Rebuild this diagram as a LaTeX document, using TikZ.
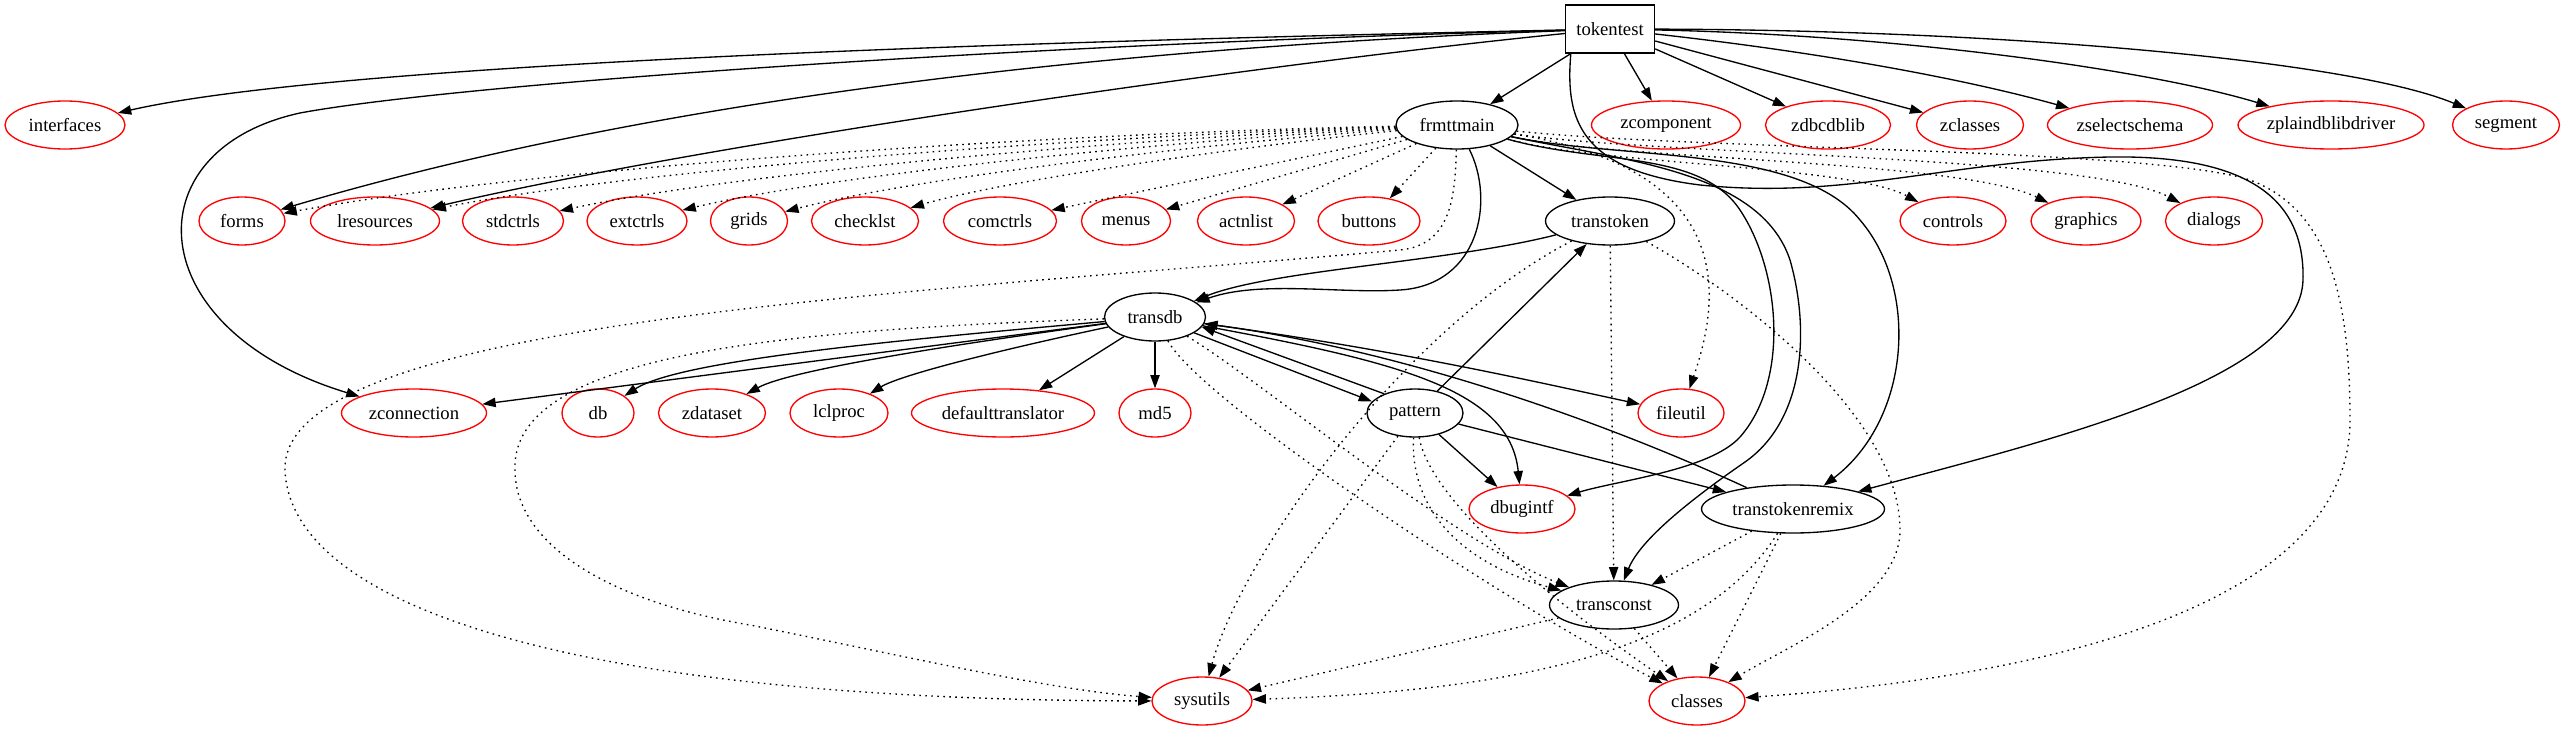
\documentclass[tikz,border=0pt]{standalone}
\usepackage{fontspec}
\setmainfont{Liberation Serif}
\usetikzlibrary{shapes.geometric,arrows.meta,calc}
\tikzset{
  lbl/.style={font={\fontsize{14}{16}\selectfont}, inner sep=0pt, minimum height=36pt},
  ext/.style={lbl, ellipse, draw=red, line width=1pt},
  unit/.style={lbl, ellipse, draw=black, line width=1pt},
  root/.style={lbl, rectangle, draw=black, line width=1pt},
  uses/.style={line width=1pt, -{Triangle[length=10pt,width=7pt]}},
  impl/.style={uses, dash pattern=on 1.2pt off 3.3pt},
}
\begin{document}
\begin{tikzpicture}[x=0.75pt,y=-0.75pt]
\useasboundingbox (0,0) rectangle (2565,731);
% rank 0
\node[root, minimum width=66.75pt] (tokentest) at (1610,29) {tokentest};
% rank 1
\node[ext, minimum width=90pt] (interfaces) at (65,125) {interfaces};
\node[unit, minimum width=91.5pt] (frmttmain) at (1457,125) {frmttmain};
\node[ext, minimum width=111.75pt] (zcomponent) at (1666,125) {zcomponent};
\node[ext, minimum width=93.75pt] (zdbcdblib) at (1828,125) {zdbcdblib};
\node[ext, minimum width=80.25pt] (zclasses) at (1970,125) {zclasses};
\node[ext, minimum width=123.75pt] (zselectschema) at (2130,125) {zselectschema};
\node[ext, minimum width=139.5pt] (zplaindblibdriver) at (2331,125) {zplaindblibdriver};
\node[ext, minimum width=80.25pt] (segment) at (2506,125) {segment};
% rank 2
\node[ext, minimum width=64.5pt] (forms) at (242,221) {forms};
\node[ext, minimum width=96.75pt] (lresources) at (375,221) {lresources};
\node[ext, minimum width=75.75pt] (stdctrls) at (513,221) {stdctrls};
\node[ext, minimum width=75pt] (extctrls) at (637,221) {extctrls};
\node[ext, minimum width=57.75pt] (grids) at (749,221) {grids};
\node[ext, minimum width=80.25pt] (checklst) at (865,221) {checklst};
\node[ext, minimum width=84.75pt] (comctrls) at (1000,221) {comctrls};
\node[ext, minimum width=66.75pt] (menus) at (1126,221) {menus};
\node[ext, minimum width=72.75pt] (actnlist) at (1246,221) {actnlist};
\node[ext, minimum width=76.5pt] (buttons) at (1369,221) {buttons};
\node[unit, minimum width=96.75pt] (transtoken) at (1610,221) {transtoken};
\node[ext, minimum width=79.5pt] (controls) at (1953,221) {controls};
\node[ext, minimum width=82.5pt] (graphics) at (2086,221) {graphics};
\node[ext, minimum width=72.75pt] (dialogs) at (2214,221) {dialogs};
% rank 3
\node[unit, minimum width=75.75pt] (transdb) at (1155,317) {transdb};
% rank 4
\node[ext, minimum width=108.75pt] (zconnection) at (414,413) {zconnection};
\node[ext, minimum width=54pt] (db) at (598,413) {db};
\node[ext, minimum width=80.25pt] (zdataset) at (712,413) {zdataset};
\node[ext, minimum width=73.5pt] (lclproc) at (839,413) {lclproc};
\node[ext, minimum width=137.25pt] (defaulttranslator) at (1003,413) {defaulttranslator};
\node[ext, minimum width=54pt] (md5) at (1155,413) {md5};
\node[unit, minimum width=72pt] (pattern) at (1415,413) {pattern};
\node[ext, minimum width=64.5pt] (fileutil) at (1681,413) {fileutil};
% rank 5
\node[ext, minimum width=79.5pt] (dbugintf) at (1522,509) {dbugintf};
\node[unit, minimum width=137.25pt] (transtokenremix) at (1793,509) {transtokenremix};
% rank 6
\node[unit, minimum width=96.75pt] (transconst) at (1614,605) {transconst};
% rank 7
\node[ext, minimum width=75pt] (sysutils) at (1202,701) {sysutils};
\node[ext, minimum width=72pt] (classes) at (1697,701) {classes};

% ---- tokentest
\draw[uses] (tokentest) .. controls (1100,40) and (350,60) .. (interfaces);
\draw[uses] (tokentest) .. controls (1000,45) and (450,85) .. (300,113) .. controls (130,150) and (140,330) .. (zconnection);
\draw[uses] (tokentest) .. controls (1100,48) and (650,100) .. (forms);
\draw[uses] (tokentest) .. controls (1250,65) and (700,145) .. (lresources);
\draw[uses] (tokentest) -- (frmttmain);
\draw[uses] (tokentest) -- (zcomponent);
\draw[uses] (tokentest) -- (zdbcdblib);
\draw[uses] (tokentest) -- (zclasses);
\draw[uses] (tokentest) .. controls (1800,50) and (1950,75) .. (zselectschema);
\draw[uses] (tokentest) .. controls (1900,35) and (2150,70) .. (zplaindblibdriver);
\draw[uses] (tokentest) .. controls (2000,30) and (2350,60) .. (segment);
\draw[uses] ($(tokentest.south west)+(6,0)$) .. controls (1565,120) and (1580,170) .. (1700,185)
   .. controls (1850,200) and (1950,160) .. (2110,157)
   .. controls (2250,155) and (2305,200) .. (2303,280)
   .. controls (2300,380) and (2050,440) .. (transtokenremix);

% ---- frmttmain
\draw[impl] (frmttmain) .. controls (1092,132) and (546,165) .. (forms);
\draw[impl] (frmttmain) .. controls (1132,134) and (646,167) .. (lresources);
\draw[impl] (frmttmain) .. controls (1174,136) and (749,170) .. (stdctrls);
\draw[impl] (frmttmain) .. controls (1211,138) and (842,172) .. (extctrls);
\draw[impl] (frmttmain) .. controls (1245,140) and (926,175) .. (grids);
\draw[impl] (frmttmain) .. controls (1279,142) and (1013,178) .. (checklst);
\draw[impl] (frmttmain) -- (comctrls);
\draw[impl] (frmttmain) -- (menus);
\draw[impl] (frmttmain) -- (actnlist);
\draw[impl] (frmttmain) -- (buttons);
\draw[uses] (frmttmain) -- (transtoken);
\draw[uses] (frmttmain) .. controls (1495,200) and (1480,285) .. (1400,290) .. controls (1340,294) and (1260,280) .. (transdb);
\draw[impl] (frmttmain) .. controls (1455,200) and (1450,245) .. (1400,250)
   .. controls (900,295) and (280,320) .. (285,470)
   .. controls (290,600) and (550,700) .. (sysutils);
\draw[impl] (frmttmain) .. controls (1600,165) and (1850,165) .. (controls);
\draw[impl] (frmttmain) .. controls (1620,160) and (1960,160) .. (graphics);
\draw[impl] (frmttmain) .. controls (1650,155) and (2090,155) .. (dialogs);
\draw[impl] (frmttmain) .. controls (1740,170) and (1720,300) .. (fileutil);
\draw[impl] (frmttmain) .. controls (1700,150) and (2150,148) .. (2250,180)
   .. controls (2330,210) and (2350,300) .. (2350,420)
   .. controls (2350,620) and (2000,680) .. (classes);
\draw[uses] (frmttmain) .. controls (1600,165) and (1700,150) .. (1740,210)
   .. controls (1780,270) and (1790,380) .. (1740,437)
   .. controls (1710,470) and (1620,480) .. (dbugintf);
\draw[uses] (frmttmain) .. controls (1620,160) and (1760,170) .. (1790,260)
   .. controls (1810,330) and (1805,420) .. (1745,462)
   .. controls (1690,500) and (1640,540) .. (transconst);
\draw[uses] (frmttmain) .. controls (1620,160) and (1800,145) .. (1860,220)
   .. controls (1920,290) and (1910,420) .. (transtokenremix);

% ---- transtoken
\draw[uses] (transtoken) .. controls (1450,262) and (1270,270) .. (transdb);
\draw[impl] (transtoken) -- (transconst);
\draw[impl] (transtoken) .. controls (1750,300) and (1900,420) .. (1900,530) .. controls (1900,600) and (1790,645) .. (classes);
\draw[impl] (transtoken) .. controls (1400,330) and (1240,560) .. (sysutils);

% ---- pattern
\draw[uses] (pattern) -- (transtoken);
\draw[uses] (transdb.-22) -- (pattern.165);
\draw[uses] (pattern.148) -- (transdb.-12);
\draw[uses] (pattern) -- (dbugintf);
\draw[uses] (pattern) -- (transtokenremix);
\draw[impl] (pattern) -- (sysutils);
\draw[impl] (pattern) .. controls (1410,500) and (1450,560) .. (transconst);
\draw[impl] (pattern) .. controls (1430,500) and (1550,600) .. (classes);

% ---- transdb
\draw[uses] (transdb) -- (zconnection);
\draw[uses] (transdb) .. controls (900,340) and (680,360) .. (db);
\draw[uses] (transdb) .. controls (950,345) and (790,370) .. (zdataset);
\draw[uses] (transdb) .. controls (1000,350) and (900,375) .. (lclproc);
\draw[uses] (transdb) -- (defaulttranslator);
\draw[uses] (transdb) -- (md5);
\draw[uses] (transdb) .. controls (1400,362) and (1510,390) .. (dbugintf);
\draw[uses] (transdb) .. controls (1400,350) and (1550,385) .. (fileutil);
\draw[impl] (transdb) .. controls (800,330) and (510,350) .. (515,470)
   .. controls (515,540) and (600,600) .. (750,625)
   .. controls (900,655) and (1050,690) .. (sysutils);
\draw[impl] (transdb) .. controls (1260,380) and (1450,540) .. (transconst);
\draw[impl] (transdb) .. controls (1200,400) and (1500,600) .. (classes);

% ---- transtokenremix
\draw[uses] (transtokenremix) .. controls (1600,420) and (1400,350) .. (transdb);
\draw[impl] (transtokenremix) -- (transconst);
\draw[impl] (transtokenremix) .. controls (1710,640) and (1550,690) .. (sysutils);
\draw[impl] (transtokenremix) -- (classes);

% ---- transconst
\draw[impl] (transconst) -- (sysutils);
\draw[impl] (transconst) -- (classes);
\end{tikzpicture}
\end{document}
